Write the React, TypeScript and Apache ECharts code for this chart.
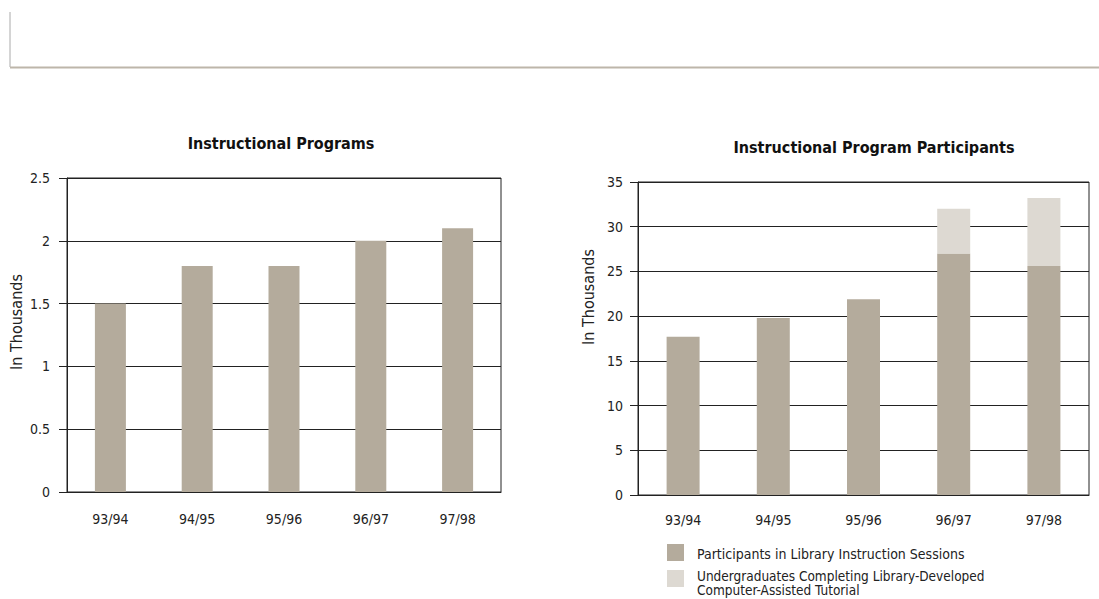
import React, { useEffect, useRef } from "react";
import * as echarts from "echarts";

const categories = ["93/94", "94/95", "95/96", "96/97", "97/98"];
const programs = [1.5, 1.8, 1.8, 2.0, 2.1];
const sessionParticipants = [17.7, 19.8, 21.9, 27.0, 25.6];
const tutorialCompleters = [0, 0, 0, 5.0, 7.6];
const leftTitle = "Instructional Programs";
const rightTitle = "Instructional Program Participants";
const yName = "In Thousands";
const legendNames = [
  "Participants in Library Instruction Sessions",
  "Undergraduates Completing Library-Developed\nComputer-Assisted Tutorial",
];

const FONT = "'Liberation Sans Narrow', 'DejaVu Sans Condensed', 'Roboto Condensed', sans-serif";
const DARK = "#b4ab9c";
const LIGHT = "#ddd9d2";
const INK = "#222";

export default function App() {
  const ref = useRef<HTMLDivElement>(null);
  useEffect(() => {
    if (!ref.current) return;
    const chart = echarts.init(ref.current, null, { renderer: "svg" });
    const axisCommon = {
      axisLine: { show: true, lineStyle: { color: INK, width: 1 } },
      splitLine: { show: true, lineStyle: { color: INK, width: 1 } },
      axisTick: { show: true, length: 8, lineStyle: { color: INK } },
    };
    chart.setOption({
      animation: false,
      backgroundColor: "#fff",
      title: [
        {
          text: leftTitle,
          left: 276,
          top: 130,
          textAlign: "center",
          textStyle: { fontFamily: FONT, fontSize: 16, fontWeight: "bold", color: "#111" },
        },
        {
          text: rightTitle,
          left: 869,
          top: 134,
          textAlign: "center",
          textStyle: { fontFamily: FONT, fontSize: 16, fontWeight: "bold", color: "#111" },
        },
      ],
      grid: [
        { left: 67, right: 598, top: 178, bottom: 107, show: true, borderColor: INK, borderWidth: 1 },
        { left: 638, right: 10, top: 182, bottom: 104, show: true, borderColor: INK, borderWidth: 1 },
      ],
      xAxis: [
        {
          type: "category",
          gridIndex: 0,
          data: categories,
          axisLine: { show: true, lineStyle: { color: INK } },
          axisTick: { show: false },
          axisLabel: { margin: 20, fontFamily: FONT, fontSize: 14, color: "#222" },
        },
        {
          type: "category",
          gridIndex: 1,
          data: categories,
          axisLine: { show: true, lineStyle: { color: INK } },
          axisTick: { show: false },
          axisLabel: { margin: 18, fontFamily: FONT, fontSize: 14, color: "#222" },
        },
      ],
      yAxis: [
        {
          type: "value",
          gridIndex: 0,
          min: 0,
          max: 2.5,
          interval: 0.5,
          ...axisCommon,
          axisLabel: { margin: 17, fontFamily: FONT, fontSize: 14, color: "#222" },
        },
        {
          type: "value",
          gridIndex: 1,
          min: 0,
          max: 35,
          interval: 5,
          ...axisCommon,
          axisLabel: { margin: 15, fontFamily: FONT, fontSize: 14, color: "#222" },
        },
      ],
      series: [
        {
          type: "bar",
          xAxisIndex: 0,
          yAxisIndex: 0,
          data: programs,
          barWidth: 31,
          itemStyle: { color: DARK },
        },
        {
          type: "bar",
          name: legendNames[0],
          xAxisIndex: 1,
          yAxisIndex: 1,
          stack: "p",
          data: sessionParticipants,
          barWidth: 33,
          itemStyle: { color: DARK },
        },
        {
          type: "bar",
          name: legendNames[1],
          xAxisIndex: 1,
          yAxisIndex: 1,
          stack: "p",
          data: tutorialCompleters,
          barWidth: 33,
          itemStyle: { color: LIGHT },
        },
      ],
      graphic: [
        { type: "line", shape: { x1: 10, y1: 12, x2: 10, y2: 67 }, style: { stroke: "#aaa", lineWidth: 1 } },
        { type: "line", shape: { x1: 10, y1: 67.5, x2: 1099, y2: 67.5 }, style: { stroke: "#bdb6aa", lineWidth: 2 } },
        {
          type: "text",
          x: 16,
          y: 322,
          rotation: Math.PI / 2,
          style: { text: yName, fontFamily: FONT, fontSize: 16, fill: "#222", align: "center", verticalAlign: "middle" },
        },
        {
          type: "text",
          x: 588,
          y: 297,
          rotation: Math.PI / 2,
          style: { text: yName, fontFamily: FONT, fontSize: 16, fill: "#222", align: "center", verticalAlign: "middle" },
        },
        { type: "rect", shape: { x: 667, y: 544, width: 17, height: 17 }, style: { fill: DARK } },
        { type: "rect", shape: { x: 667, y: 570, width: 17, height: 17 }, style: { fill: LIGHT } },
        {
          type: "text",
          x: 697,
          y: 546,
          style: { text: legendNames[0], fontFamily: FONT, fontSize: 14, fill: "#222", lineHeight: 16 },
        },
        {
          type: "text",
          x: 697,
          y: 569,
          style: { text: legendNames[1], fontFamily: FONT, fontSize: 13.5, fill: "#222", lineHeight: 14 },
        },
      ],
    });
    return () => chart.dispose();
  }, []);
  return (
    <div
      ref={ref}
      style={{ position: "absolute", left: 0, top: 0, width: 1099, height: 599, background: "#fff" }}
    />
  );
}
